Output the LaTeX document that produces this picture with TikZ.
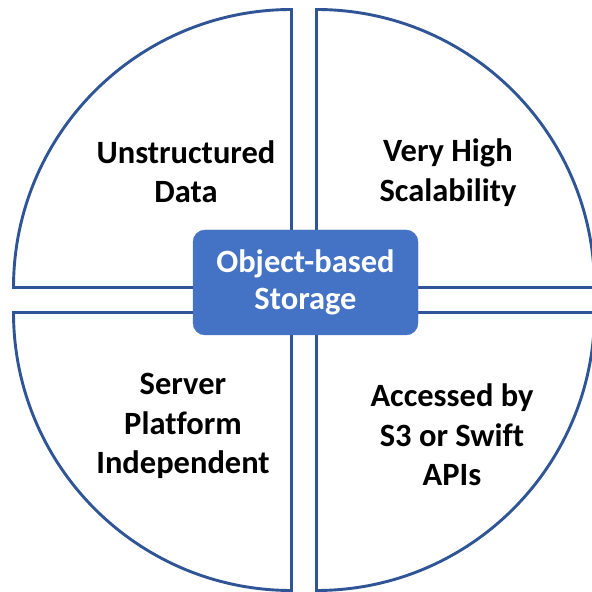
\documentclass[tikz,border=0pt]{standalone}
\usepackage{fontspec}
\setmainfont[Ligatures=NoCommon]{Carlito}
\definecolor{edgeblue}{HTML}{2F5597}
\definecolor{boxblue}{HTML}{4472C4}
\begin{document}
\begin{tikzpicture}[x=1pt,y=1pt,
  quad/.style={draw=edgeblue,line width=2.9pt,line join=miter,fill=white},
  label/.style={align=center,font=\fontsize{32.5}{39.5}\selectfont\bfseries,text=black,inner sep=0pt},
  hub/.style={fill=boxblue,draw=boxblue,rounded corners=12pt,minimum width=225pt,minimum height=105pt,
    align=center,font=\fontsize{32.5}{37}\selectfont\bfseries,text=white,inner sep=0pt}]
\clip (0,0) rectangle (592,592);
\fill[white] (0,0) rectangle (592,592);
% quadrants (tikz y = 592 - image y)
\def\R{278}
\draw[quad] (13.5,304.5) -- (291.5,304.5) -- (291.5,582.5) arc[start angle=90,end angle=180,radius=\R] -- cycle;
\draw[quad] (594.5,304.5) -- (316.5,304.5) -- (316.5,582.5) arc[start angle=90,end angle=0,radius=\R] -- cycle;
\draw[quad] (13.5,279.5) -- (291.5,279.5) -- (291.5,1.5) arc[start angle=270,end angle=180,radius=\R] -- cycle;
\draw[quad] (594.5,279.5) -- (316.5,279.5) -- (316.5,1.5) arc[start angle=270,end angle=360,radius=\R] -- cycle;
% texts
\node[label] (tl) at (186,420.5) {Unstructured\\Data};
\node[label] (tr) at (448,419.5) {Very High\\Scalability};
\node[label] (bl) at (183,166) {Server\\Platform\\Independent};
\node[label] (br) at (452,157) {Accessed by\\S3 or Swift\\APIs};
\node[hub] (hub) at (305.5,309.5) {Object-based\\Storage};
\end{tikzpicture}
\end{document}
